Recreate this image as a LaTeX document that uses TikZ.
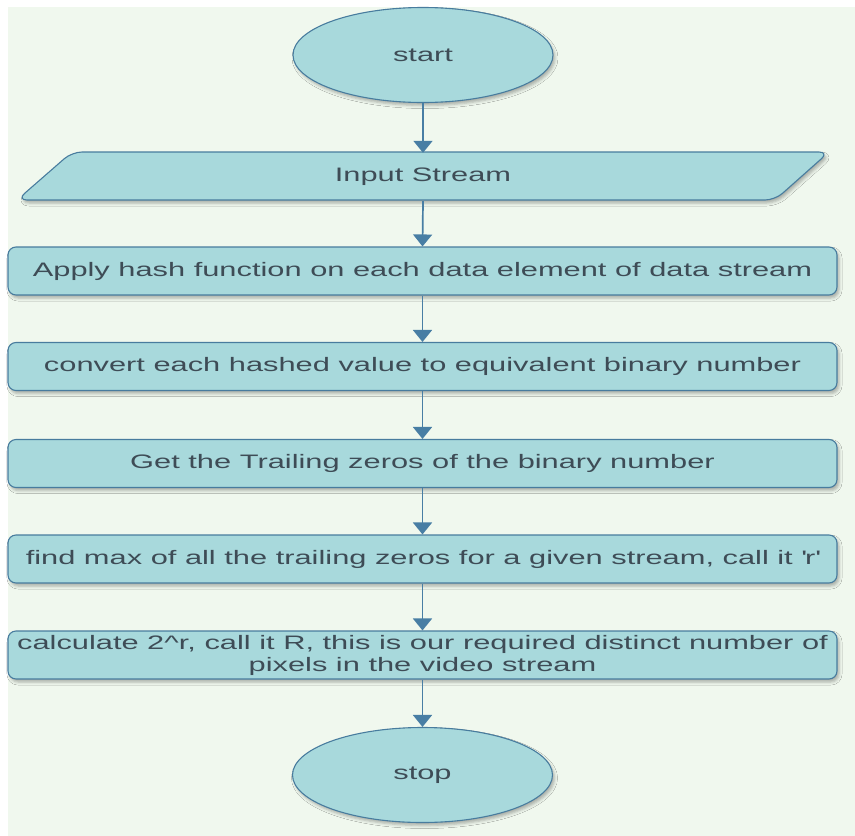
\documentclass[tikz,border=0pt]{standalone}
\usepackage{fontspec}
\setmainfont{Liberation Sans}[FakeStretch=1.58]
\usetikzlibrary{shapes.geometric,arrows.meta,shadows.blur}

\definecolor{pagebg}{RGB}{240,248,238}
\definecolor{boxfill}{RGB}{168,217,220}
\definecolor{boxline}{RGB}{72,124,158}
\definecolor{arrowcol}{RGB}{72,126,164}
\definecolor{labelcol}{RGB}{62,76,86}

\tikzset{
  softshadow/.style={blur shadow={shadow xshift=2pt, shadow yshift=-3pt,
      shadow blur radius=3pt, shadow opacity=30}},
  terminal/.style={ellipse, draw=boxline, fill=boxfill, line width=1.1pt,
      minimum width=260pt, minimum height=95pt, inner sep=0pt,
      text=labelcol, softshadow},
  procbox/.style={rectangle, rounded corners=8pt, draw=boxline, fill=boxfill,
      line width=1.1pt, minimum width=829pt, minimum height=48pt,
      inner sep=0pt, text=labelcol, align=center, softshadow},
  iolabel/.style={rectangle, minimum width=700pt, minimum height=48pt,
      inner sep=0pt, text=labelcol},
  flow/.style={draw=arrowcol, line width=1.7pt,
      -{Triangle[length=12pt,width=19pt]}}
}

\begin{document}
\begin{tikzpicture}[x=1pt, y=-1pt,
    font=\fontsize{19.5}{22}\selectfont]
  \useasboundingbox (0,0) rectangle (855,836);
  \fill[white] (0,0) rectangle (855,836);
  \fill[pagebg] (8,7) rectangle (855,836);

  % terminals and process steps
  \node[terminal] (start) at (423,55) {start};

  % input parallelogram
  \path[draw=boxline, fill=boxfill, line width=1.1pt, rounded corners=10pt,
        softshadow]
    (72,152) -- (829,152) -- (775,200) -- (17,200) -- cycle;
  \node[iolabel] (input) at (423,177) {Input Stream};

  \node[procbox] (hash) at (422.5,271)
    {\raisebox{-1pt}{Apply hash function on each data element of data stream}};
  \node[procbox] (binary) at (422.5,366.5)
    {\raisebox{-1pt}{convert each hashed value to equivalent binary number}};
  \node[procbox] (zeros) at (422.5,463.5)
    {\raisebox{-1pt}{Get the Trailing zeros of the binary number}};
  \node[procbox] (maxr) at (422.5,559)
    {\raisebox{-1pt}{find max of all the trailing zeros for a given stream, call it \textquotesingle r\textquotesingle}};
  \node[procbox] (result) at (422.5,655)
    {calculate 2\textasciicircum r, call it R, this is our required distinct number of\\
     pixels in the video stream};

  \node[terminal] (stop) at (422.5,775) {stop};

  % connectors
  \draw[flow] (start.south) -- (input.north);
  \draw[flow] (input.south) -- (hash.north);
  \draw[flow] (hash.south) -- (binary.north);
  \draw[flow] (binary.south) -- (zeros.north);
  \draw[flow] (zeros.south) -- (maxr.north);
  \draw[flow] (maxr.south) -- (result.north);
  \draw[flow] (result.south) -- (stop.north);
\end{tikzpicture}
\end{document}
